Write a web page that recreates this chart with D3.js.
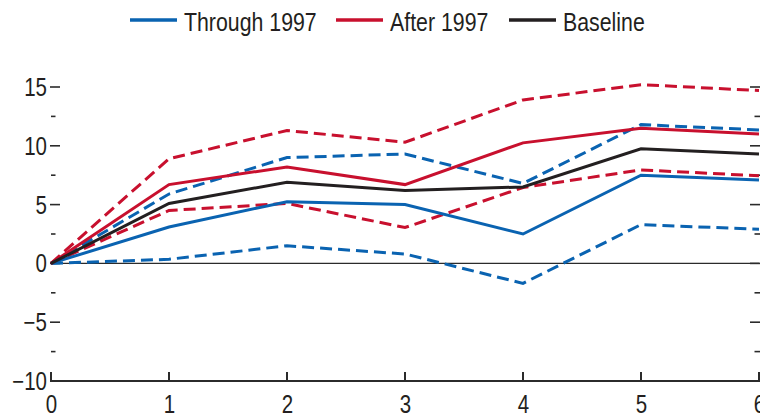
<!DOCTYPE html>
<html>
<head>
<meta charset="utf-8">
<script src="https://cdn.jsdelivr.net/npm/d3@7/dist/d3.min.js"></script>
<style>
  html, body { margin: 0; padding: 0; background: #fff; overflow: hidden; }
  svg { display: block; }
  text { font-family: "Liberation Sans", Arial, sans-serif; fill: #231f20; }
</style>
</head>
<body>
<svg id="chart" width="760" height="417"></svg>
<script>
// Years after the event
const years = [0, 1, 2, 3, 4, 5, 6];

// Responses, percent
const throughEst   = [0, 3.1, 5.25, 5.0, 2.5, 7.5, 7.1];
const throughUpper = [0, 5.9, 9.0, 9.3, 6.8, 11.8, 11.35];
const throughLower = [0, 0.35, 1.5, 0.8, -1.7, 3.3, 2.9];

const afterEst   = [0, 6.7, 8.2, 6.7, 10.25, 11.5, 11.0];
const afterUpper = [0, 8.9, 11.3, 10.3, 13.9, 15.2, 14.7];
const afterLower = [0, 4.5, 5.1, 3.05, 6.45, 7.95, 7.45];

const baseline = [0, 5.1, 6.9, 6.2, 6.5, 9.75, 9.3];

const yMajorTicks = [-10, -5, 0, 5, 10, 15];
const yMinorTicks = [-7.5, -2.5, 2.5, 7.5, 12.5];

const legendLabels = ["Through 1997", "After 1997", "Baseline"];

const BLUE = "#0a63b1", RED = "#c8102e", BLACK = "#231f20";
const NARROW = 0.82; // horizontal squeeze for a condensed face

const svg = d3.select("#chart");

const x = d3.scaleLinear().domain([0, 6]).range([51, 759]);
const y = d3.scaleLinear().domain([-10, 15]).range([381, 87]);

const axisColor = "#2b2b2b";

// condensed text placed at (px, py)
function narrowText(sel, px, py) {
  return sel.attr("x", 0).attr("y", 0)
    .attr("transform", (d, i) => `translate(${px(d, i)},${py(d, i)}) scale(${NARROW},1)`);
}

// zero line
svg.append("line")
  .attr("x1", x(0)).attr("x2", x(6))
  .attr("y1", y(0)).attr("y2", y(0))
  .attr("stroke", axisColor).attr("stroke-width", 1.2);

// left axis: inward ticks, labels on the outside
const left = svg.append("g");
left.selectAll("line.major").data(yMajorTicks).join("line")
  .attr("x1", x(0) - 1).attr("x2", x(0) + 9)
  .attr("y1", d => y(d)).attr("y2", d => y(d))
  .attr("stroke", axisColor).attr("stroke-width", 1.6);
left.selectAll("line.minor").data(yMinorTicks).join("line")
  .attr("x1", x(0)).attr("x2", x(0) + 4.5)
  .attr("y1", d => y(d)).attr("y2", d => y(d))
  .attr("stroke", axisColor).attr("stroke-width", 1.6);
narrowText(left.selectAll("text").data(yMajorTicks).join("text"), () => 47, d => y(d) + 9)
  .attr("text-anchor", "end")
  .attr("font-size", 25)
  .text(d => d < 0 ? "\u2212" + Math.abs(d) : d);

// right axis: ticks only, pointing into the plot
const right = svg.append("g");
right.selectAll("line.major").data(yMajorTicks).join("line")
  .attr("x1", x(6) + 1).attr("x2", x(6) - 9)
  .attr("y1", d => y(d)).attr("y2", d => y(d))
  .attr("stroke", axisColor).attr("stroke-width", 1.6);
right.selectAll("line.minor").data(yMinorTicks).join("line")
  .attr("x1", x(6) + 1).attr("x2", x(6) - 4.5)
  .attr("y1", d => y(d)).attr("y2", d => y(d))
  .attr("stroke", axisColor).attr("stroke-width", 1.6);

// bottom axis
const bottom = svg.append("g").attr("transform", `translate(0,${y(-10)})`);
bottom.call(d3.axisBottom(x).tickValues(years).tickSize(0).tickPadding(0).tickFormat(d3.format("d")));
bottom.select(".domain").remove();
bottom.attr("font-family", null).attr("font-size", null);
narrowText(bottom.selectAll(".tick text"), () => 0, () => 32)
  .attr("dy", null)
  .attr("font-size", 25)
  .attr("fill", "#231f20");
bottom.append("line")
  .attr("x1", x(0) - 1).attr("x2", x(6) + 1)
  .attr("y1", 0).attr("y2", 0)
  .attr("stroke", axisColor).attr("stroke-width", 2);
bottom.selectAll("line.tk").data(years).join("line")
  .attr("x1", d => x(d)).attr("x2", d => x(d))
  .attr("y1", 0).attr("y2", -9)
  .attr("stroke", axisColor).attr("stroke-width", 2);

// series lines
const line = d3.line().x((d, i) => x(years[i])).y(d => y(d));
const series = [
  { values: throughLower, color: BLUE, dash: "12,6" },
  { values: throughUpper, color: BLUE, dash: "12,6" },
  { values: afterLower,   color: RED,  dash: "12,6" },
  { values: afterUpper,   color: RED,  dash: "12,6" },
  { values: throughEst,   color: BLUE, dash: null },
  { values: afterEst,     color: RED,  dash: null },
  { values: baseline,     color: BLACK, dash: null }
];
svg.append("g").selectAll("path").data(series).join("path")
  .attr("d", d => line(d.values))
  .attr("fill", "none")
  .attr("stroke", d => d.color)
  .attr("stroke-width", 3)
  .attr("stroke-linejoin", "miter")
  .attr("stroke-dasharray", d => d.dash);

// legend
const legendItems = [
  { label: legendLabels[0], color: BLUE,  x: 130 },
  { label: legendLabels[1], color: RED,   x: 336 },
  { label: legendLabels[2], color: BLACK, x: 509 }
];
const lg = svg.append("g");
const item = lg.selectAll("g").data(legendItems).join("g")
  .attr("transform", d => `translate(${d.x},20)`);
item.append("line")
  .attr("x1", 0).attr("x2", 47).attr("y1", 0).attr("y2", 0)
  .attr("stroke", d => d.color).attr("stroke-width", 3.5);
narrowText(item.append("text"), () => 54, () => 11)
  .attr("font-size", 26)
  .text(d => d.label);
</script>
</body>
</html>
